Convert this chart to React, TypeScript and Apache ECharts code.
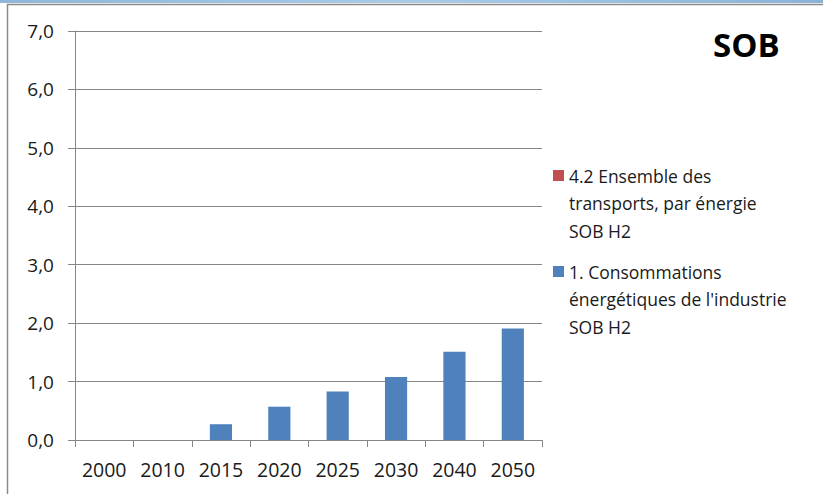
import React, { useEffect, useRef } from "react";
import * as echarts from "echarts";

const categories = ["2000", "2010", "2015", "2020", "2025", "2030", "2040", "2050"];
const industrieH2 = [0, 0, 0.27, 0.57, 0.83, 1.08, 1.51, 1.91];
const transportsH2 = [0, 0, 0, 0, 0, 0, 0, 0];
const seriesNames = [
  "1. Consommations énergétiques de l'industrie SOB H2",
  "4.2 Ensemble des transports, par énergie SOB H2",
];
const legendLines = [
  ["4.2 Ensemble des", "transports, par énergie", "SOB H2"],
  ["1. Consommations", "énergétiques de l'industrie", "SOB H2"],
];
const colors = { industrie: "#4F81BD", transports: "#C0504D" };
const FONT = "'Open Sans', sans-serif";

export default function App() {
  const ref = useRef<HTMLDivElement>(null);

  useEffect(() => {
    if (!ref.current) return;
    const chart = echarts.init(ref.current, undefined, { renderer: "svg" });

    const legendItems = [
      { color: colors.transports, lines: legendLines[0], top: 162 },
      { color: colors.industrie, lines: legendLines[1], top: 258 },
    ];
    const legendGraphics: any[] = [];
    legendItems.forEach((item) => {
      legendGraphics.push({
        type: "rect",
        shape: { x: 553, y: item.top + 8, width: 11, height: 11 },
        style: { fill: item.color },
      });
      legendGraphics.push({
        type: "text",
        x: 569,
        y: item.top,
        style: {
          text: item.lines.join("\n"),
          font: `17.5px ${FONT}`,
          lineHeight: 27.5,
          fill: "#1a1a1a",
        },
      });
    });

    chart.setOption({
      animation: false,
      backgroundColor: "#ffffff",
      grid: { left: 75, right: 281, top: 31, bottom: 54 },
      xAxis: {
        type: "category",
        data: categories,
        axisLine: { lineStyle: { color: "#868686", width: 1 } },
        axisTick: { show: true, length: 7, lineStyle: { color: "#868686" } },
        axisLabel: { color: "#1a1a1a", fontFamily: FONT, fontSize: 19.5, margin: 19 },
      },
      yAxis: {
        type: "value",
        min: 0,
        max: 7,
        interval: 1,
        axisLine: { show: true, lineStyle: { color: "#868686", width: 1 } },
        axisTick: { show: true, length: 7, lineStyle: { color: "#868686" } },
        splitLine: { lineStyle: { color: "#868686", width: 1 } },
        axisLabel: {
          color: "#1a1a1a",
          fontFamily: FONT,
          fontSize: 19,
          margin: 21,
          formatter: (v: number) => v.toFixed(1).replace(".", ","),
        },
      },
      series: [
        {
          name: seriesNames[0],
          type: "bar",
          stack: "total",
          data: industrieH2,
          barWidth: "38%",
          itemStyle: { color: colors.industrie },
        },
        {
          name: seriesNames[1],
          type: "bar",
          stack: "total",
          data: transportsH2,
          barWidth: "38%",
          itemStyle: { color: colors.transports },
        },
      ],
      graphic: [
        {
          type: "rect",
          shape: { x: 0, y: 0, width: 823, height: 3 },
          style: {
            fill: new echarts.graphic.LinearGradient(0, 0, 1, 0, [
              { offset: 0, color: "#8fb6d8" },
              { offset: 0.5, color: "#a9cbe6" },
              { offset: 1, color: "#8ab3d6" },
            ]),
          },
        },
        {
          type: "polyline",
          shape: { points: [[7.5, 494], [7.5, 4.5], [823, 4.5]] },
          style: { stroke: "#8a8a8a", lineWidth: 1.5, fill: "none" },
        },
        {
          type: "text",
          x: 713,
          y: 28,
          style: {
            text: "SOB",
            font: `bold 33px ${FONT}`,
            fill: "#000000",
          },
        },
        ...legendGraphics,
      ],
    });

    return () => chart.dispose();
  }, []);

  return (
    <div
      ref={ref}
      style={{ position: "fixed", left: 0, top: 0, width: 823, height: 494 }}
    />
  );
}
